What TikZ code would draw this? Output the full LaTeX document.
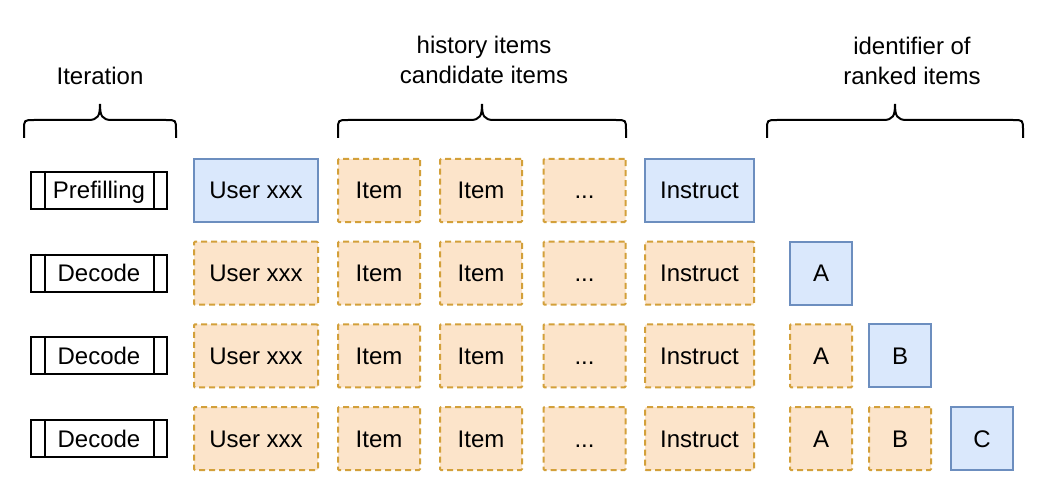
\documentclass[tikz,border=0pt]{standalone}
\usepackage{fontspec}
\setmainfont{Liberation Sans}
\definecolor{newFill}{HTML}{DAE8FC}
\definecolor{newLine}{HTML}{6C8EBF}
\definecolor{oldFill}{HTML}{FCE4CA}
\definecolor{oldLine}{HTML}{D3A03A}
\newcommand\itemdots{...}
\begin{document}
\begin{tikzpicture}
% 1pt = 1px of the 1050x500 reference, y runs downwards
[x=1pt, y=-1pt, line width=2pt,
font=\fontsize{24}{30}\selectfont,
tok/.style={inner sep=0pt, minimum height=63pt, text height=22pt, text depth=5pt},
newtok/.style={tok, draw=newLine, fill=newFill},
oldtok/.style={tok, draw=oldLine, fill=oldFill, dash pattern=on 6pt off 4pt, rounded corners=1pt},
iterbox/.style={tok, draw=black, fill=white, minimum width=136pt, minimum height=37pt},
label/.style={align=center, inner sep=0pt}]
\useasboundingbox (0,0) rectangle (1050,500);
% column headers
\node[label] (iterlabel) at (100,76) {Iteration};
\node[label] (itemlabel) at (484,60) {history items\\candidate items};
\node[label] (ranklabel) at (912,61) {identifier of\\ranked items};
% braces: left end / right end, tip in the middle
\foreach \a/\b in {24/176, 338/626, 767/1023}{
	\pgfmathsetmacro\m{(\a+\b)/2}
	\draw (\a,138) -- (\a,130) .. controls (\a,120) .. ({\a+10},120)
		-- ({\m-12},120) .. controls ({\m-2},120) and (\m,116) .. (\m,104)
		.. controls (\m,116) and ({\m+2},120) .. ({\m+12},120)
		-- ({\b-10},120) .. controls (\b,120) .. (\b,130) -- (\b,138);
	}
% 82.67 = row pitch, 190.5 = centre of the first row
\foreach \row/\name/\utok in {0/Prefilling/newtok, 1/Decode/oldtok, 2/Decode/oldtok, 3/Decode/oldtok}{
	\pgfmathsetmacro\yc{190.5+82.67*\row}
	\node[iterbox] (it\row) at (99,\yc) {\name};
	\draw ([xshift=15pt]it\row.north west) -- ([xshift=15pt]it\row.south west);
	\draw ([xshift=-14pt]it\row.north east) -- ([xshift=-14pt]it\row.south east);
	\node[\utok, minimum width=124pt] (user\row) at (256,\yc) {User xxx};
	\foreach \col/\xc/\txt in {1/379/Item, 2/481/Item, 3/584.5/\itemdots}{
		\node[oldtok, minimum width=82pt] (item\row\col) at (\xc,\yc) {\txt};
		}
	\node[\utok, minimum width=109pt] (instr\row) at (699.5,\yc) {Instruct};
	% ranked identifiers: the newest one is blue
	\foreach \k/\xc/\txt in {1/821/A, 2/900/B, 3/982/C}{
		\ifnum\k<\row
		\node[oldtok, minimum width=62pt] (id\row\k) at (\xc,\yc) {\txt};
		\fi
		\ifnum\k=\row
		\node[newtok, minimum width=62pt] (id\row\k) at (\xc,\yc) {\txt};
		\fi
		}
	}
\end{tikzpicture}
\end{document}
